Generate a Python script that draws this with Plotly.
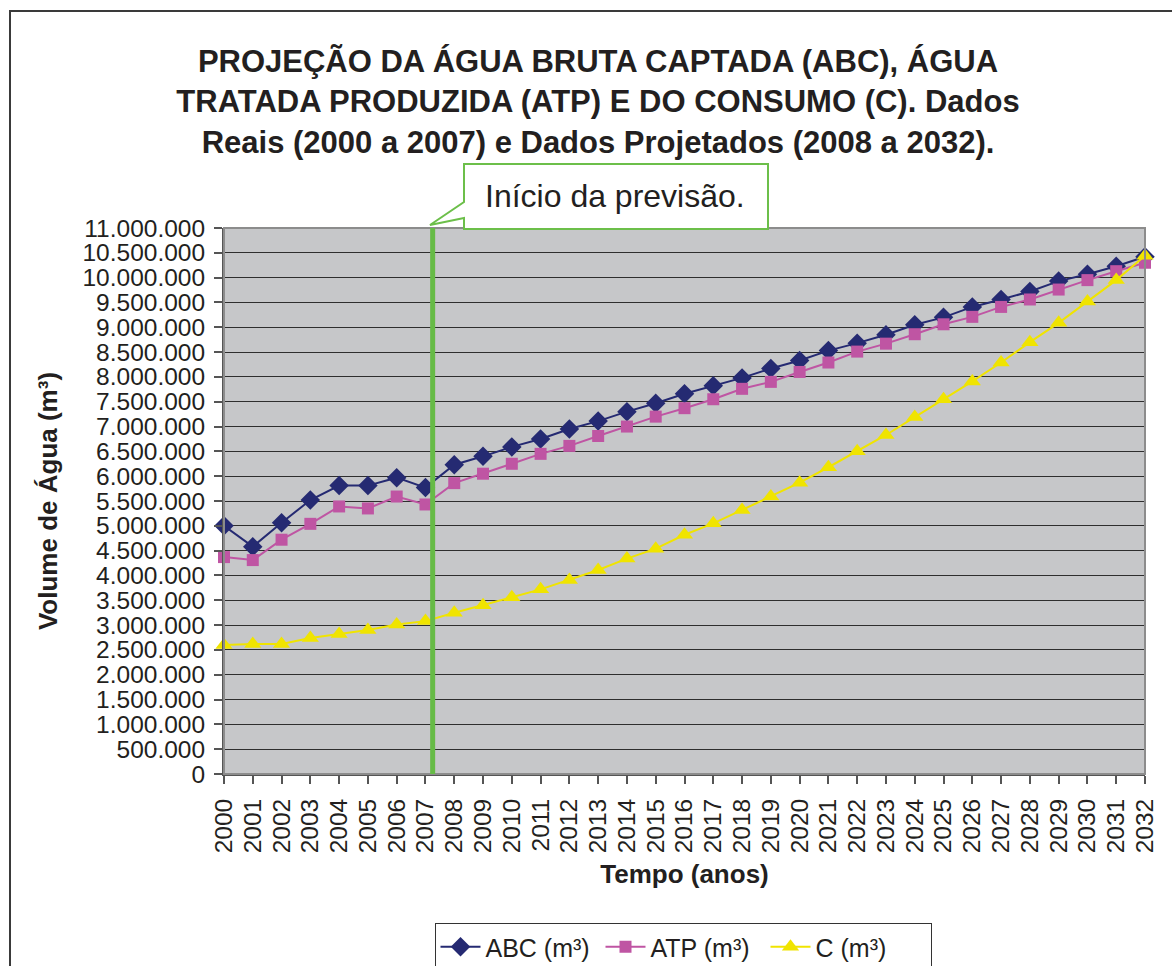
import plotly.graph_objects as go

years = list(range(2000, 2033))
abc = [5.00, 4.58, 5.06, 5.52, 5.81, 5.81, 5.97, 5.77, 6.23, 6.40, 6.59, 6.75, 6.95, 7.11, 7.30, 7.47,
       7.66, 7.82, 7.98, 8.17, 8.33, 8.53, 8.68, 8.85, 9.05, 9.20, 9.41, 9.56, 9.72, 9.93, 10.07, 10.23, 10.42]
atp = [4.37, 4.31, 4.72, 5.04, 5.39, 5.35, 5.59, 5.43, 5.86, 6.05, 6.25, 6.45, 6.61, 6.81, 7.00, 7.20,
       7.37, 7.55, 7.76, 7.90, 8.10, 8.29, 8.51, 8.67, 8.86, 9.06, 9.21, 9.41, 9.56, 9.76, 9.95, 10.13, 10.30]
cons = [2.60, 2.62, 2.62, 2.74, 2.82, 2.90, 3.01, 3.08, 3.25, 3.40, 3.56, 3.72, 3.91, 4.11, 4.34, 4.54,
        4.82, 5.05, 5.32, 5.59, 5.87, 6.18, 6.50, 6.83, 7.19, 7.55, 7.91, 8.29, 8.70, 9.09, 9.52, 9.95, 10.44]
abc = [v * 1e6 for v in abc]
atp = [v * 1e6 for v in atp]
cons = [v * 1e6 for v in cons]

series_names = ["ABC (m³)", "ATP (m³)", "C (m³)"]
y_tickvals = [i * 500000 for i in range(23)]
y_ticktext = ["0" if v == 0 else f"{v:,}".replace(",", ".") for v in y_tickvals]
x_ticktext = [str(y) for y in years]
forecast_start = 2007.25

FONT = "Liberation Sans, Arial, sans-serif"
TXT = "#231F20"

fig = go.Figure()
fig.add_trace(go.Scatter(x=years, y=abc, name=series_names[0], mode="lines+markers",
                         line=dict(color="#252A72", width=2),
                         marker=dict(symbol="diamond", size=15, color="#252A72"), cliponaxis=False))
fig.add_trace(go.Scatter(x=years, y=atp, name=series_names[1], mode="lines+markers",
                         line=dict(color="#BF55A3", width=2),
                         marker=dict(symbol="square", size=12, color="#BF55A3"), cliponaxis=False))
fig.add_trace(go.Scatter(x=years, y=cons, name=series_names[2], mode="lines+markers",
                         line=dict(color="#F0E400", width=2),
                         marker=dict(symbol="triangle-up", size=15, color="#F0E400"), cliponaxis=False))

L, R, T, B = 224, 1145, 228, 774
W, H = 1172, 966
def px(p):
    return (p - L) / (R - L)
def py(p):
    return (B - p) / (B - T)

shapes = []
shapes.append(dict(type="rect", xref="paper", yref="paper", x0=0, x1=1, y0=0, y1=1,
                   line=dict(color="#8C8C8C", width=2), layer="above"))
shapes.append(dict(type="line", xref="x", yref="paper", x0=forecast_start, x1=forecast_start, y0=0, y1=1,
                   line=dict(color="#66BB46", width=5), layer="above"))
pts = [(464, 164), (768, 164), (768, 229), (464, 229), (464, 218), (430, 225), (464, 202)]
path = "M " + " L ".join(f"{px(a):.5f},{py(b):.5f}" for a, b in pts) + " Z"
shapes.append(dict(type="path", xref="paper", yref="paper", path=path,
                   fillcolor="white", line=dict(color="#6CBF4A", width=2), layer="above"))
shapes.append(dict(type="rect", xref="paper", yref="paper", x0=px(10), x1=px(1200), y0=py(1000), y1=py(11),
                   line=dict(color="#3A3A3A", width=2), layer="above"))

annotations = [dict(xref="paper", yref="paper", x=px(615), y=py(196), text="Início da previsão.",
                    showarrow=False, font=dict(family=FONT, size=32, color=TXT),
                    xanchor="center", yanchor="middle")]

fig.update_layout(
    width=W, height=H, autosize=False,
    margin=dict(l=L, r=W - R, t=T, b=H - B, autoexpand=False),
    paper_bgcolor="white", plot_bgcolor="#C6C7C9",
    font=dict(family=FONT, color=TXT, size=24),
    title=dict(text="PROJEÇÃO DA ÁGUA BRUTA CAPTADA (ABC), ÁGUA<br>TRATADA PRODUZIDA (ATP) E DO CONSUMO (C). Dados<br>Reais (2000 a 2007) e Dados Projetados (2008 a 2032).",
               xref="container", yref="container", x=598 / W, y=1 - 72 / H,
               xanchor="center", yanchor="middle",
               font=dict(family=FONT, size=31, weight="bold", color=TXT)),
    xaxis=dict(range=[2000, 2032], tickvals=years, ticktext=x_ticktext, tickangle=-90,
               ticks="outside", ticklen=8, tickcolor="#555", tickwidth=1.5,
               showgrid=False, zeroline=False, showline=True, linecolor="#555", linewidth=2,
               tickfont=dict(size=24.5), ticklabelstandoff=5,
               title=dict(text="Tempo (anos)", font=dict(size=26, weight="bold"), standoff=12)),
    yaxis=dict(range=[0, 11000000], tickvals=y_tickvals, ticktext=y_ticktext,
               ticks="outside", ticklen=8, tickcolor="#555", tickwidth=1.5,
               showgrid=True, gridcolor="#2E2E2E", gridwidth=1, zeroline=False,
               showline=True, linecolor="#555", linewidth=2,
               tickfont=dict(size=24.5), ticklabelstandoff=4,
               title=dict(text="Volume de Água (m³)", font=dict(size=26, weight="bold"), standoff=17)),
    legend=dict(orientation="h", x=px(683), y=py(923), xanchor="center", yanchor="top",
                bordercolor="#333", borderwidth=1, font=dict(size=25), bgcolor="white",
                entrywidth=110, itemwidth=40),
    shapes=shapes, annotations=annotations,
)

fig.write_html("out.html", config={"displayModeBar": False},
               post_script="document.body.style.margin='0';document.body.style.overflow='hidden';")
